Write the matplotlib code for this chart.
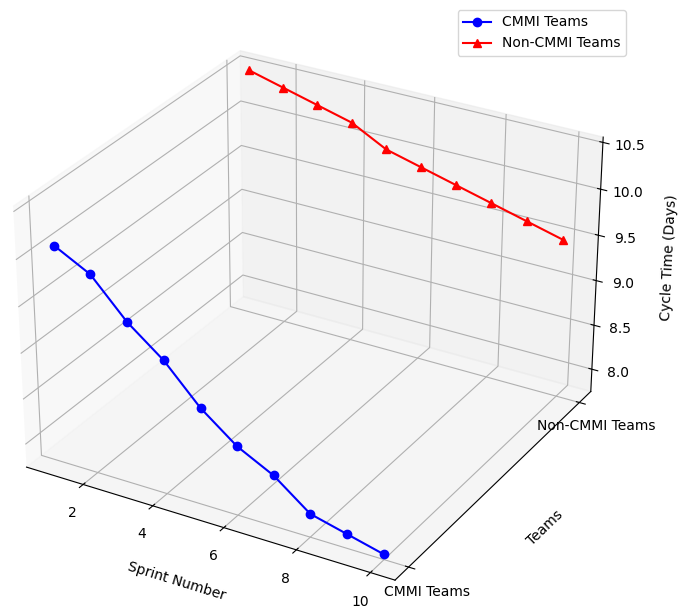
import numpy as np
import matplotlib
matplotlib.use("Agg")
import matplotlib.pyplot as plt

# sprint numbers and cycle times
sprints = [1, 2, 3, 4, 5, 6, 7, 8, 9, 10]
cmmi_cycle = [10.1, 9.9, 9.5, 9.2, 8.8, 8.5, 8.3, 8.0, 7.9, 7.8]
non_cmmi_cycle = [10.5, 10.4, 10.3, 10.2, 10.0, 9.9, 9.8, 9.7, 9.6, 9.5]
team_labels = ['CMMI Teams', 'Non-CMMI Teams']

W, H = 678, 613
fig = plt.figure(figsize=(W/100, H/100), dpi=100)

# axes box in pixels (the reference is a bit squashed vertically)
ax_w, ax_h = 656, 616
left_px, top_px = -23, 3
ax = fig.add_axes([left_px/W, (H - top_px - ax_h)/H, ax_w/W, ax_h/H], projection='3d')
ax.apply_aspect = lambda position=None: None   # keep the non-square box

ax.plot(sprints, [0]*len(sprints), cmmi_cycle, 'o-', color='blue', label=team_labels[0])
ax.plot(sprints, [1]*len(sprints), non_cmmi_cycle, '^-', color='red', label=team_labels[1])

ax.set_xlabel('Sprint Number', labelpad=10)
ax.set_ylabel('Teams', labelpad=10)
ax.set_zlabel('Cycle Time (Days)', labelpad=10)
ax.set_yticks([0, 1])
ax.set_yticklabels(team_labels)
ax.legend(loc='upper right')

fig.savefig('out.png', dpi=100)
